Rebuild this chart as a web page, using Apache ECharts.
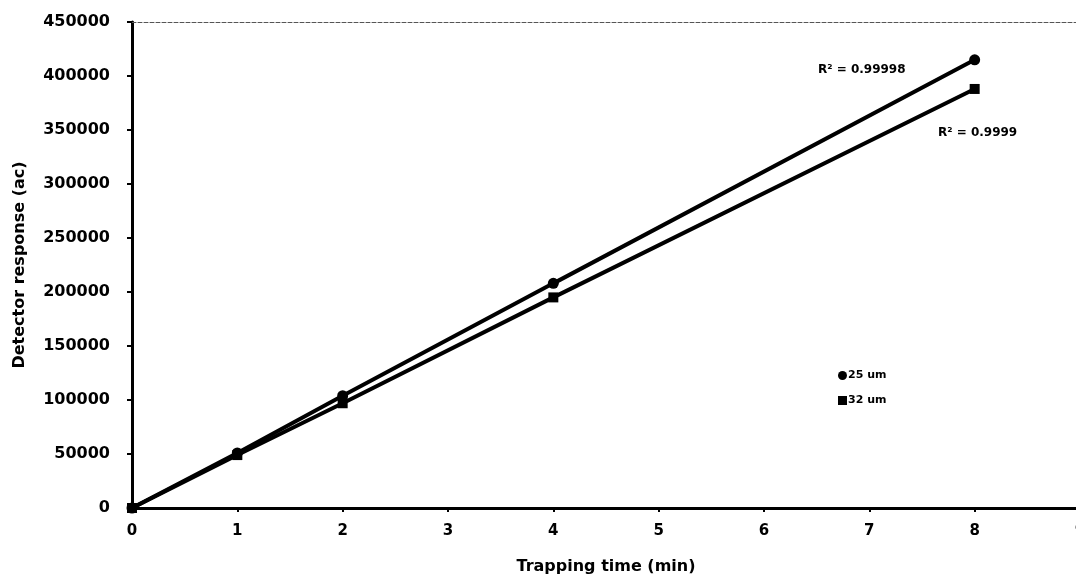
<!DOCTYPE html>
<html>
<head>
<meta charset="utf-8">
<script src="https://cdn.jsdelivr.net/npm/echarts@6/dist/echarts.min.js"></script>
<style>
  html, body { margin: 0; padding: 0; background: #fff; }
  #chart { width: 1076px; height: 578px; }
</style>
</head>
<body>
<div id="chart"></div>
<script>
var times = [0, 1, 2, 4, 8];                               // Trapping time (min)
var um25 = [0, 51000, 104000, 208000, 415000];           // 25 um
var um32 = [0, 49000, 97000, 195000, 388000];            // 32 um
var xTicks = [0, 1, 2, 3, 4, 5, 6, 7, 8, 9];
var yTicks = [0, 50000, 100000, 150000, 200000, 250000, 300000, 350000, 400000, 450000];
var r2Labels = ['R\u00b2 = 0.99998', 'R\u00b2 = 0.9999'];

var font = 'DejaVu Sans, Liberation Sans, sans-serif';

function pairs(xs, ys) {
    var out = [];
    for (var i = 0; i < xs.length; i++) {
        out.push([xs[i], ys[i]]);
    }
    return out;
}

var myChart = echarts.init(document.getElementById('chart'));   //初始化echarts图表
var option = {
    backgroundColor: '#fff',
    animation: false,
    textStyle: { fontFamily: font },
    grid: { left: 132, width: 948, top: 22, bottom: 70, outerBoundsMode: 'none', containLabel: false },
    legend: {
        left: 833,
        top: 365,
        orient: 'vertical',
        itemWidth: 9,
        itemHeight: 9,
        itemGap: 14,
        textStyle: { fontFamily: font, fontSize: 11, fontWeight: 'bold', color: '#000', padding: [0, 0, 0, -4] },
        data: [
            { name: '25 um', icon: 'circle' },
            { name: '32 um', icon: 'rect' }
        ]
    },
    xAxis: [
        {
            type: 'value',
            min: 0,
            max: 9,
            interval: 1,
            name: 'Trapping time (min)',
            nameLocation: 'middle',
            nameGap: 51,
            nameTextStyle: { fontFamily: font, fontSize: 16, fontWeight: 'bold', color: '#000' },
            axisLine: { lineStyle: { color: '#000', width: 3 } },
            axisTick: { show: true, length: 4, lineStyle: { color: '#000', width: 2 } },
            axisLabel: { fontFamily: font, fontSize: 15, fontWeight: 'bold', color: '#000', margin: 16 },
            splitLine: { show: false }
        },
        {
            type: 'value',
            position: 'top',
            min: 0,
            max: 9,
            axisLine: { lineStyle: { color: '#555', width: 1, type: 'dashed' } },
            axisTick: { show: false },
            axisLabel: { show: false },
            splitLine: { show: false }
        }
    ],
    yAxis: {
        type: 'value',
        min: 0,
        max: 450000,
        interval: 50000,
        name: 'Detector response (ac)',
        nameLocation: 'middle',
        nameGap: 104,
        nameTextStyle: { fontFamily: font, fontSize: 16, fontWeight: 'bold', color: '#000' },
        axisLine: { show: true, lineStyle: { color: '#000', width: 3 } },
        axisTick: { show: true, length: 5, lineStyle: { color: '#000', width: 2 } },
        axisLabel: {
            fontFamily: font, fontSize: 16, fontWeight: 'bold', color: '#000', margin: 22,
            formatter: function (v) { return String(v); }
        },
        splitLine: { show: false }
    },
    series: [
        {
            name: '25 um',
            type: 'line',
            data: pairs(times, um25),
            symbol: 'circle',
            symbolSize: 11,
            lineStyle: { color: '#000', width: 4 },
            itemStyle: { color: '#000' }
        },
        {
            name: '32 um',
            type: 'line',
            data: pairs(times, um32),
            symbol: 'rect',
            symbolSize: 10,
            lineStyle: { color: '#000', width: 4 },
            itemStyle: { color: '#000' }
        }
    ],
    graphic: [
        {
            type: 'text', left: 818, top: 64,
            style: { text: r2Labels[0], fill: '#000', font: 'bold 12px ' + font }
        },
        {
            type: 'text', left: 938, top: 127,
            style: { text: r2Labels[1], fill: '#000', font: 'bold 12px ' + font }
        }
    ]
};
myChart.setOption(option);   //为echarts对象加载数据
</script>
</body>
</html>
